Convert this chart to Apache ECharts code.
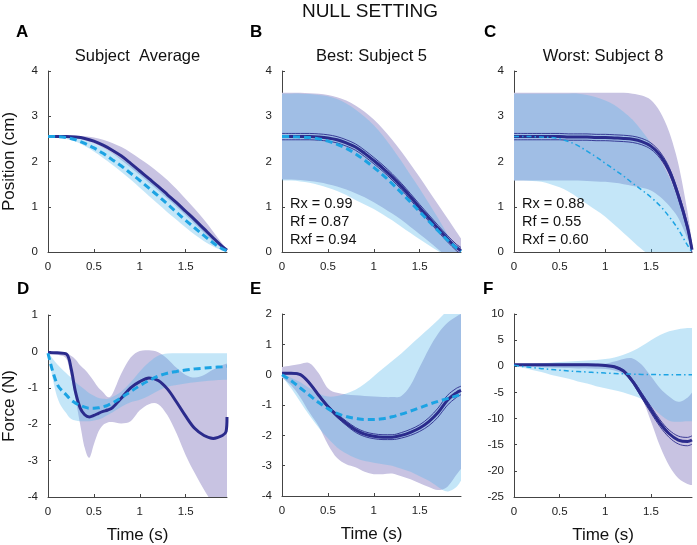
<!DOCTYPE html>
<html><head><meta charset="utf-8">
<script src="https://cdn.jsdelivr.net/npm/echarts@6/dist/echarts.min.js"></script>
<style>html,body{margin:0;padding:0;background:#fff}#c{width:697px;height:545px}</style>
</head><body><div id="c"></div><script>
// ---------- data ----------
const T  = [0,0.1,0.2,0.3,0.4,0.5,0.6,0.7,0.8,0.9,1.0,1.1,1.2,1.3,1.4,1.5,1.6,1.7,1.8,1.9,1.95];
const TD = [0,0.1,0.2,0.25,0.3,0.35,0.4,0.45,0.5,0.55,0.6,0.65,0.7,0.8,0.9,1.0,1.1,1.2,1.3,1.4,1.5,1.6,1.7,1.8,1.9,1.94,1.95];
const xTicks = [0,0.5,1,1.5];
const titles = ['Subject  Average','Best: Subject 5','Worst: Subject 8'];
const letters = ['A','B','C','D','E','F'];
const statsB = ['Rx = 0.99','Rf = 0.87','Rxf = 0.94'];
const statsC = ['Rx = 0.88','Rf = 0.55','Rxf = 0.60'];

// Panel A (position, subject average)
const navyA = [2.55,2.55,2.55,2.54,2.51,2.45,2.36,2.25,2.12,1.96,1.79,1.62,1.45,1.27,1.09,0.90,0.71,0.51,0.31,0.12,0.04];
const cyanA = [2.55,2.55,2.53,2.48,2.40,2.30,2.18,2.04,1.90,1.74,1.58,1.41,1.24,1.06,0.88,0.70,0.53,0.36,0.20,0.07,0.03];
const purpleHiA = [2.56,2.56,2.57,2.57,2.56,2.53,2.48,2.41,2.32,2.20,2.06,1.92,1.76,1.59,1.39,1.17,0.95,0.71,0.45,0.18,0.06];
const purpleLoA = [2.55,2.55,2.54,2.52,2.47,2.40,2.30,2.18,2.03,1.87,1.70,1.53,1.36,1.18,1.00,0.81,0.62,0.42,0.23,0.07,0.02];
const blueHiA = [2.56,2.56,2.55,2.52,2.47,2.40,2.30,2.19,2.06,1.91,1.75,1.58,1.41,1.23,1.05,0.86,0.67,0.47,0.28,0.10,0.04];
const blueLoA = [2.54,2.53,2.50,2.44,2.34,2.22,2.08,1.93,1.77,1.60,1.42,1.24,1.06,0.88,0.71,0.54,0.38,0.24,0.12,0.03,0.01];

// Panel B (position, best subject)
const navyB = [2.55,2.55,2.55,2.55,2.54,2.52,2.48,2.41,2.32,2.18,2.02,1.85,1.66,1.45,1.22,0.98,0.75,0.52,0.30,0.10,0.03];
const seB = 0.07;
const cyanB = [2.55,2.55,2.54,2.53,2.50,2.45,2.38,2.29,2.17,2.03,1.87,1.70,1.51,1.31,1.10,0.89,0.68,0.47,0.27,0.09,0.01];
const purpleHiB = [3.52,3.52,3.52,3.51,3.50,3.47,3.42,3.35,3.24,3.10,2.93,2.72,2.48,2.22,1.94,1.65,1.35,1.05,0.75,0.45,0.30];
const purpleLoB = [1.60,1.60,1.59,1.57,1.54,1.50,1.45,1.38,1.30,1.21,1.10,0.98,0.85,0.71,0.55,0.39,0.23,0.06,-0.12,-0.30,-0.40];
const blueHiB = [3.50,3.50,3.50,3.49,3.47,3.44,3.38,3.28,3.15,2.99,2.80,2.57,2.30,2.01,1.70,1.40,1.08,0.75,0.40,0.08,-0.10];
const blueLoB = [1.58,1.58,1.56,1.53,1.48,1.42,1.35,1.26,1.15,1.05,0.95,0.83,0.70,0.56,0.42,0.28,0.15,0.02,-0.12,-0.30,-0.40];

// Panel C (position, worst subject)
const navyC = [2.55,2.55,2.55,2.55,2.55,2.55,2.54,2.54,2.54,2.53,2.53,2.52,2.51,2.49,2.44,2.34,2.14,1.80,1.25,0.55,0.05];
const seC = 0.07;
const cyanC = [2.55,2.55,2.55,2.54,2.53,2.50,2.44,2.35,2.23,2.10,1.96,1.82,1.68,1.52,1.37,1.21,1.02,0.78,0.50,0.15,0.00];
const purpleHiC = [3.52,3.52,3.52,3.52,3.52,3.52,3.52,3.52,3.52,3.52,3.52,3.52,3.52,3.50,3.46,3.36,3.10,2.65,1.95,0.90,0.20];
const purpleLoC = [1.58,1.58,1.58,1.58,1.58,1.58,1.58,1.58,1.57,1.56,1.55,1.53,1.50,1.46,1.42,1.36,1.22,1.02,0.75,0.30,0.05];
const blueHiC = [3.50,3.50,3.50,3.50,3.50,3.50,3.50,3.50,3.47,3.42,3.35,3.25,3.10,2.92,2.68,2.40,2.05,1.65,1.15,0.45,0.05];
const blueLoC = [1.58,1.58,1.57,1.55,1.50,1.43,1.33,1.20,1.06,0.92,0.78,0.60,0.42,0.24,0.06,-0.10,-0.30,-0.40,-0.50,-0.50,-0.50];

// Panel D (force, subject average) on TD
const navyD = [-0.03,-0.04,-0.07,-0.45,-1.12,-1.55,-1.74,-1.80,-1.76,-1.70,-1.65,-1.61,-1.55,-1.28,-1.00,-0.83,-0.73,-0.80,-1.03,-1.39,-1.78,-2.12,-2.31,-2.39,-2.31,-2.20,-1.80];
const cyanD = [-0.05,-0.90,-1.20,-1.33,-1.42,-1.48,-1.53,-1.56,-1.56,-1.55,-1.52,-1.48,-1.42,-1.27,-1.10,-0.94,-0.80,-0.68,-0.60,-0.55,-0.51,-0.48,-0.46,-0.44,-0.42,-0.41,-0.41];
const purpleHiD = [-0.02,-0.02,-0.05,-0.12,-0.22,-0.38,-0.50,-0.65,-0.82,-1.00,-1.12,-1.25,-1.18,-0.60,-0.17,0.01,0.03,-0.02,-0.20,-0.45,-0.65,-0.72,-0.65,-0.50,-0.38,-0.34,-0.33];
const purpleLoD = [-0.08,-0.10,-0.20,-0.70,-1.30,-2.00,-2.65,-2.92,-2.55,-2.20,-2.02,-1.95,-1.94,-1.98,-1.92,-1.62,-1.45,-1.45,-1.75,-2.25,-2.85,-3.35,-3.80,-4.20,-4.60,-4.80,-4.80];
const blueHiD = [-0.02,-0.35,-0.60,-0.72,-0.85,-0.95,-1.05,-1.15,-1.22,-1.28,-1.30,-1.30,-1.25,-1.10,-0.85,-0.55,-0.30,-0.12,-0.06,-0.05,-0.05,-0.05,-0.05,-0.05,-0.05,-0.05,-0.05];
const blueLoD = [-0.10,-1.25,-1.70,-1.85,-1.90,-1.92,-1.92,-1.92,-1.90,-1.87,-1.82,-1.75,-1.68,-1.52,-1.40,-1.33,-1.22,-1.08,-0.97,-0.92,-0.88,-0.85,-0.82,-0.80,-0.78,-0.78,-0.78];

// Panel E (force, best subject)
const navyE = [0.05,0.05,0.00,-0.28,-0.68,-1.05,-1.35,-1.60,-1.82,-1.96,-2.03,-2.06,-2.06,-2.00,-1.90,-1.76,-1.55,-1.25,-0.85,-0.60,-0.52];
const seE = [0.02,0.02,0.02,0.03,0.04,0.05,0.06,0.07,0.08,0.08,0.08,0.08,0.08,0.09,0.10,0.11,0.13,0.15,0.16,0.15,0.14];
const cyanE = [0.00,-0.20,-0.44,-0.68,-0.92,-1.12,-1.28,-1.38,-1.44,-1.48,-1.48,-1.45,-1.39,-1.30,-1.20,-1.09,-0.98,-0.88,-0.79,-0.70,-0.66];
const purpleHiE = [0.25,0.30,0.35,0.38,0.05,-0.45,-0.60,-0.65,-0.68,-0.70,-0.72,-0.74,-0.74,-0.70,-0.35,0.25,0.85,1.35,1.70,1.92,2.00];
const purpleLoE = [-0.10,-0.35,-0.75,-1.25,-1.70,-2.30,-2.75,-2.95,-3.05,-3.20,-3.28,-3.28,-3.26,-3.35,-3.45,-3.58,-3.70,-3.80,-3.70,-3.30,-3.10];
const blueHiE = [0.05,-0.10,-0.25,-0.45,-0.62,-0.72,-0.70,-0.62,-0.50,-0.30,-0.05,0.20,0.45,0.70,0.98,1.25,1.52,1.80,2.10,2.30,2.40];
const blueLoE = [-0.05,-0.45,-0.90,-1.35,-1.75,-2.10,-2.40,-2.60,-2.75,-2.85,-2.90,-2.95,-3.00,-3.10,-3.20,-3.35,-3.50,-3.70,-3.85,-3.70,-3.50];

// Panel F (force, worst subject)
const navyF = [0.30,0.30,0.30,0.30,0.30,0.30,0.30,0.30,0.30,0.25,0.15,-0.10,-0.90,-2.90,-5.60,-8.30,-10.90,-12.90,-14.10,-14.40,-14.10];
const seF = [0.05,0.05,0.05,0.05,0.05,0.05,0.05,0.05,0.05,0.05,0.05,0.10,0.20,0.35,0.50,0.60,0.65,0.70,0.75,0.80,0.80];
const cyanF = [0.20,-0.05,-0.25,-0.45,-0.60,-0.75,-0.90,-1.00,-1.10,-1.20,-1.30,-1.38,-1.45,-1.50,-1.55,-1.58,-1.60,-1.60,-1.60,-1.60,-1.60];
const purpleHiF = [0.50,0.50,0.50,0.55,0.60,0.60,0.60,0.60,0.60,0.55,0.50,0.90,1.40,1.50,0.30,-1.90,-4.20,-5.80,-6.80,-6.00,-5.00];
const purpleLoF = [0.10,0.00,-0.10,-0.20,-0.25,-0.30,-0.35,-0.40,-0.40,-0.45,-0.50,-0.80,-1.50,-3.30,-6.00,-10.50,-15.30,-19.00,-21.40,-22.50,-22.70];
const blueHiF = [0.40,0.50,0.50,0.60,0.70,0.80,0.90,1.00,1.10,1.20,1.40,1.70,2.20,2.90,3.90,5.00,6.00,6.70,7.10,7.30,7.30];
const blueLoF = [0.20,-0.30,-0.70,-1.10,-1.60,-2.00,-2.40,-2.90,-3.30,-3.80,-4.20,-4.60,-5.00,-5.60,-6.30,-7.60,-9.20,-10.40,-10.60,-10.50,-10.50];

// axis ranges [min, max, interval]
const yRanges = [[0,4,1],[0,4,1],[0,4,1],[-4,1,1],[-4,2,1],[-25,10,5]];
const xMax = 1.95;

// ---------- styling ----------
const PURPLE = '#c8c3e2';
const BLUE = 'rgb(84,183,235)';
const BLUE_OP = 0.345;
const NAVY = '#2b2b8c';
const CYAN = '#1ca3e3';
const AXIS = '#444';
const FONT = '"Liberation Sans", Arial, Helvetica, sans-serif';

const grids = [
  {left:48, top:71, width:179, height:181},
  {left:282, top:71, width:179, height:181},
  {left:514, top:71, width:178, height:181},
  {left:48, top:315, width:179, height:182},
  {left:282, top:314, width:179, height:182},
  {left:514, top:314, width:178, height:183}
];

const zip = (t, v) => t.map((x, i) => [x, v[i]]);

// Catmull-Rom through screen points -> SVG path segments (no initial M)
function crPath(p) {
  let d = '';
  for (let i = 0; i < p.length - 1; i++) {
    const p0 = p[Math.max(i - 1, 0)], p1 = p[i], p2 = p[i + 1], p3 = p[Math.min(i + 2, p.length - 1)];
    const c1 = [p1[0] + (p2[0] - p0[0]) / 6, p1[1] + (p2[1] - p0[1]) / 6];
    const c2 = [p2[0] - (p3[0] - p1[0]) / 6, p2[1] - (p3[1] - p1[1]) / 6];
    d += ' C' + c1[0].toFixed(2) + ',' + c1[1].toFixed(2) + ' ' + c2[0].toFixed(2) + ',' + c2[1].toFixed(2) + ' ' + p2[0].toFixed(2) + ',' + p2[1].toFixed(2);
  }
  return d;
}

function band(ax, t, lo, hi, color, op) {
  return {
    type:'custom', xAxisIndex:ax, yAxisIndex:ax, clip:true, silent:true, z:1, animation:false,
    data:[[t[0], lo[0]]],
    renderItem: function (params, api) {
      const up = t.map((x, i) => api.coord([x, hi[i]]));
      const dn = t.map((x, i) => api.coord([x, lo[i]])).reverse();
      const d = 'M' + up[0][0] + ',' + up[0][1] + crPath(up) + ' L' + dn[0][0] + ',' + dn[0][1] + crPath(dn) + ' Z';
      return {type:'path', shape:{pathData:d}, style:{fill:color, opacity:op, stroke:null}};
    }
  };
}
function line(ax, t, v, color, width, type, z) {
  return {type:'line', xAxisIndex:ax, yAxisIndex:ax, data: zip(t, v), symbol:'none', smooth:0.35,
    silent:true, lineStyle:{color:color, width:width, type:type}, z:z, animation:false};
}
function seLines(ax, t, v, se) {
  const s = Array.isArray(se) ? se : t.map(() => se);
  return [line(ax, t, v.map((y, i) => y + s[i]), NAVY, 0.9, 'solid', 3),
          line(ax, t, v.map((y, i) => y - s[i]), NAVY, 0.9, 'solid', 3)];
}

const thickDash = [7, 4];
const dashDot = [5, 3, 1.5, 3];

let series = [];
// A
series.push(band(0, T, purpleLoA, purpleHiA, PURPLE, 1), band(0, T, blueLoA, blueHiA, BLUE, BLUE_OP));
series.push(line(0, T, navyA, NAVY, 3, 'solid', 3), line(0, T, cyanA, CYAN, 3, thickDash, 4));
// B
series.push(band(1, T, purpleLoB, purpleHiB, PURPLE, 1), band(1, T, blueLoB, blueHiB, BLUE, BLUE_OP));
series.push(...seLines(1, T, navyB, seB), line(1, T, navyB, NAVY, 3, 'solid', 3), line(1, T, cyanB, CYAN, 3, thickDash, 4));
// C
series.push(band(2, T, purpleLoC, purpleHiC, PURPLE, 1), band(2, T, blueLoC, blueHiC, BLUE, BLUE_OP));
series.push(...seLines(2, T, navyC, seC), line(2, T, navyC, NAVY, 3, 'solid', 3), line(2, T, cyanC, CYAN, 1.5, dashDot, 4));
// D
series.push(band(3, TD, purpleLoD, purpleHiD, PURPLE, 1), band(3, TD, blueLoD, blueHiD, BLUE, BLUE_OP));
series.push(line(3, TD, navyD, NAVY, 3, 'solid', 3), line(3, TD, cyanD, CYAN, 3, thickDash, 4));
// E
series.push(band(4, T, purpleLoE, purpleHiE, PURPLE, 1), band(4, T, blueLoE, blueHiE, BLUE, BLUE_OP));
series.push(...seLines(4, T, navyE, seE), line(4, T, navyE, NAVY, 3, 'solid', 3), line(4, T, cyanE, CYAN, 3, thickDash, 4));
// F
series.push(band(5, T, purpleLoF, purpleHiF, PURPLE, 1), band(5, T, blueLoF, blueHiF, BLUE, BLUE_OP));
series.push(...seLines(5, T, navyF, seF), line(5, T, navyF, NAVY, 3, 'solid', 3), line(5, T, cyanF, CYAN, 1.5, dashDot, 4));

const xAxis = grids.map((g, i) => ({
  type:'value', gridIndex:i, min:0, max:xMax, interval:0.5,
  axisLine:{show:true, onZero:false, lineStyle:{color:AXIS, width:1}},
  axisTick:{show:true, inside:true, length:3, customValues:xTicks, lineStyle:{color:AXIS}},
  axisLabel:{customValues:xTicks, color:'#222', fontFamily:FONT, fontSize:11.5, margin:9},
  splitLine:{show:false},
  name: i >= 3 ? 'Time (s)' : '', nameLocation:'middle', nameGap:30,
  nameTextStyle:{fontFamily:FONT, fontSize:17, color:'#111'}
}));
const yNames = ['Position (cm)','','','Force (N)','',''];
const yAxis = grids.map((g, i) => ({
  type:'value', gridIndex:i, min:yRanges[i][0], max:yRanges[i][1], interval:yRanges[i][2],
  axisLine:{show:true, onZero:false, lineStyle:{color:AXIS, width:1}},
  axisTick:{show:true, inside:true, length:3, lineStyle:{color:AXIS}},
  axisLabel:{color:'#222', fontFamily:FONT, fontSize:11.5, margin:10},
  splitLine:{show:false},
  name: yNames[i], nameLocation:'middle', nameGap:30,
  nameTextStyle:{fontFamily:FONT, fontSize:17, color:'#111'}
}));

const graphic = [];
graphic.push({type:'text', x:370, y:12, style:{text:'NULL SETTING', font:'19px ' + FONT, fill:'#111', align:'center', verticalAlign:'middle'}});
const letterPos = [[16,32],[250,32],[484,32],[17,289],[250,289],[483,289]];
letters.forEach((L, i) => graphic.push({type:'text', x:letterPos[i][0], y:letterPos[i][1],
  style:{text:L, font:'bold 17px ' + FONT, fill:'#000', align:'left', verticalAlign:'middle'}}));
titles.forEach((t, i) => graphic.push({type:'text', x:grids[i].left + grids[i].width / 2, y:56,
  style:{text:t, font:'16.5px ' + FONT, fill:'#111', align:'center', verticalAlign:'middle'}}));
statsB.forEach((s, k) => graphic.push({type:'text', x:290, y:204 + 18 * k, z:10,
  style:{text:s, font:'14.5px ' + FONT, fill:'#111', align:'left', verticalAlign:'middle'}}));
statsC.forEach((s, k) => graphic.push({type:'text', x:522, y:204 + 18 * k, z:10,
  style:{text:s, font:'14.5px ' + FONT, fill:'#111', align:'left', verticalAlign:'middle'}}));

const chart = echarts.init(document.getElementById('c'), null, {renderer:'canvas'});
chart.setOption({
  animation:false,
  backgroundColor:'#fff',
  grid: grids,
  xAxis: xAxis,
  yAxis: yAxis,
  series: series,
  graphic: graphic
});
</script></body></html>
